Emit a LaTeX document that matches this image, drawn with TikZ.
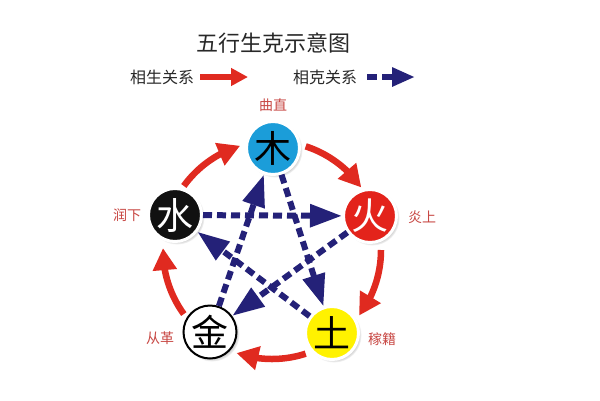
\documentclass[tikz,border=0pt]{standalone}
\usepackage{fontspec}
\setmainfont{Noto Sans CJK SC}
\usetikzlibrary{arrows.meta,bending,shadows,calc}
\definecolor{woodblue}{RGB}{27,157,217}
\definecolor{firered}{RGB}{227,35,27}
\definecolor{earthyel}{RGB}{255,242,0}
\definecolor{waterblk}{RGB}{17,17,17}
\definecolor{shengred}{RGB}{224,42,32}
\definecolor{kenavy}{RGB}{36,33,120}
\definecolor{labred}{RGB}{200,72,68}
\definecolor{titlegray}{RGB}{40,40,40}
\tikzset{
  elem/.style={circle, minimum size=53pt, inner sep=0pt, line width=3pt, draw=white,
    font=\fontsize{37}{37}\selectfont,
    circular drop shadow={shadow xshift=2pt, shadow yshift=-2pt, opacity=0.45, shadow scale=1.04}},
  lab/.style={text=labred, font=\fontsize{14}{14}\selectfont},
  sheng/.style={draw=shengred, line width=6.5pt, -{Triangle[length=22pt,width=23pt]}},
  ke/.style={draw=kenavy, line width=6pt, dash pattern=on 9pt off 5pt, -{Triangle[length=32pt,width=22pt]}},
}
\begin{document}
\begin{tikzpicture}[x=1pt,y=-1pt]
\useasboundingbox[fill=white] (0,0) rectangle (600,400);
% title and legend
\node[text=titlegray, font=\fontsize{22}{22}\selectfont] (title) at (273,43) {五行生克示意图};
\node[text=titlegray, font=\fontsize{16}{16}\selectfont] (lg1) at (162,77) {相生关系};
\node[text=titlegray, font=\fontsize{16}{16}\selectfont] (lg2) at (325,77) {相克关系};
\coordinate (l1a) at (200,77);
\coordinate (l1b) at (248,77);
\coordinate (l2a) at (367,77);
\coordinate (l2b) at (415,77);
\draw[draw=shengred, line width=6pt, -{Triangle[length=17pt,width=17pt]}] (l1a) -- (l1b);
\draw[draw=kenavy, line width=6pt, dash pattern=on 10pt off 5pt, -{Triangle[length=23pt,width=18pt]}] (l2a) -- (l2b);
% centre of the cycle
\coordinate (O) at (272,250);
% sheng arcs
\draw[sheng] ($(O)+(-144:109)$) arc[start angle=-144, end angle=-107, radius=109];
\draw[sheng] ($(O)+(-72:109)$) arc[start angle=-72, end angle=-35, radius=109];
\draw[sheng] ($(O)+(0:109)$) arc[start angle=0, end angle=37, radius=109];
\draw[sheng] ($(O)+(72:109)$) arc[start angle=72, end angle=109, radius=109];
\draw[sheng] ($(O)+(144:109)$) arc[start angle=144, end angle=181, radius=109];
% elements
\node[elem, fill=woodblue, text=black] (wood) at (273,148) {木};
\node[elem, fill=firered, text=white] (fire) at (370,216) {火};
\node[elem, fill=earthyel, text=black] (earth) at (332,333) {土};
\node[elem, fill=white, draw=black, line width=2pt, text=black] (metal) at (210,332) {金};
\node[elem, fill=waterblk, text=white] (water) at (175,215) {水};
% labels
\node[lab] (lwood) at (273,105) {曲直};
\node[lab] (lfire) at (422,217) {炎上};
\node[lab] (learth) at (382,339) {稼籍};
\node[lab] (lmetal) at (160,338) {从革};
\node[lab] (lwater) at (127,215) {润下};
% ke arrows
\draw[ke] (wood) -- (earth);
\draw[ke] (earth) -- (water);
\draw[ke] (water) -- (fire);
\draw[ke] (fire) -- (metal);
\draw[ke] (metal) -- (wood);
\end{tikzpicture}
\end{document}
